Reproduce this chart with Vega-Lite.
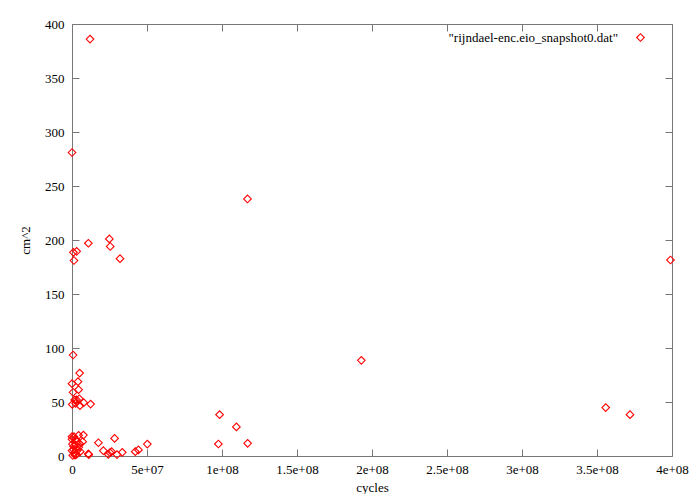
{
  "$schema": "https://vega.github.io/schema/vega-lite/v6.json",
  "width": 600,
  "height": 432,
  "autosize": {"type": "none"},
  "padding": {"left": 72, "top": 24, "right": 17, "bottom": 38},
  "background": "white",
  "config": {
    "view": {"stroke": null},
    "font": "Liberation Serif",
    "axis": {
      "labelFont": "Liberation Serif", "labelFontSize": 13, "labelColor": "black",
      "titleFont": "Liberation Serif", "titleFontSize": 13, "titleFontWeight": "normal", "titleColor": "black",
      "domainColor": "#777777", "tickColor": "#777777", "grid": false
    }
  },
  "data": {"values": [
    {"cycles": 12000000, "area": 386},
    {"cycles": 0, "area": 281},
    {"cycles": 117000000, "area": 238},
    {"cycles": 10900000, "area": 197},
    {"cycles": 24900000, "area": 201},
    {"cycles": 25500000, "area": 194},
    {"cycles": 32000000, "area": 182.7},
    {"cycles": 900000, "area": 188.6},
    {"cycles": 3100000, "area": 189.5},
    {"cycles": 1300000, "area": 181},
    {"cycles": 399000000, "area": 181.5},
    {"cycles": 192900000, "area": 88.6},
    {"cycles": 700000, "area": 93.5},
    {"cycles": 0, "area": 67},
    {"cycles": 5100000, "area": 76.8},
    {"cycles": 4000000, "area": 68.8},
    {"cycles": 4400000, "area": 61.4},
    {"cycles": 700000, "area": 59},
    {"cycles": 4900000, "area": 53},
    {"cycles": 1800000, "area": 51.9},
    {"cycles": 3100000, "area": 51.9},
    {"cycles": 200000, "area": 47.8},
    {"cycles": 2400000, "area": 48.8},
    {"cycles": 5300000, "area": 46.6},
    {"cycles": 7800000, "area": 49.4},
    {"cycles": 12400000, "area": 48.1},
    {"cycles": 98400000, "area": 38.3},
    {"cycles": 109600000, "area": 26.9},
    {"cycles": 97600000, "area": 11.1},
    {"cycles": 117100000, "area": 11.7},
    {"cycles": 355800000, "area": 44.8},
    {"cycles": 372000000, "area": 38.3},
    {"cycles": 0, "area": 17.9},
    {"cycles": 1300000, "area": 17.9},
    {"cycles": 0, "area": 15.4},
    {"cycles": 2400000, "area": 15.4},
    {"cycles": 4400000, "area": 19.1},
    {"cycles": 7600000, "area": 19.4},
    {"cycles": 3100000, "area": 13.6},
    {"cycles": 7100000, "area": 13.3},
    {"cycles": 17600000, "area": 12.3},
    {"cycles": 28400000, "area": 16.3},
    {"cycles": 50200000, "area": 11},
    {"cycles": 20900000, "area": 4.9},
    {"cycles": 25300000, "area": 3.1},
    {"cycles": 26400000, "area": 4},
    {"cycles": 24200000, "area": 1.5},
    {"cycles": 30000000, "area": 1.3},
    {"cycles": 33500000, "area": 3.4},
    {"cycles": 42200000, "area": 4},
    {"cycles": 44300000, "area": 5.6},
    {"cycles": 10900000, "area": 1.9},
    {"cycles": 11200000, "area": 1.2},
    {"cycles": 1000000, "area": 9},
    {"cycles": 4500000, "area": 8},
    {"cycles": 0, "area": 5},
    {"cycles": 1500000, "area": 3},
    {"cycles": 3000000, "area": 1.5},
    {"cycles": 500000, "area": 0.5},
    {"cycles": 2000000, "area": 0.8},
    {"cycles": 5500000, "area": 4},
    {"cycles": 300000, "area": 11},
    {"cycles": 2500000, "area": 10},
    {"cycles": 5000000, "area": 11.5},
    {"cycles": 1000000, "area": 6},
    {"cycles": 3500000, "area": 5}
  ]},
  "layer": [
    {
      "mark": {"type": "point", "shape": "diamond", "filled": false, "size": 58, "strokeWidth": 1.1, "opacity": 1},
      "encoding": {
        "x": {"field": "cycles", "type": "quantitative",
          "scale": {"domain": [0, 400000000], "nice": false, "zero": false},
          "axis": {"orient": "bottom", "title": "cycles", "values": [0, 50000000, 100000000, 150000000, 200000000, 250000000, 300000000, 350000000, 400000000],
            "labelExpr": "datum.value == 0 ? '0' : replace(format(datum.value, '.2~e'), 'e+', 'e+0')",
            "tickSize": -7, "labelPadding": 14, "titlePadding": 5, "labelFlush": false, "labelOverlap": false}},
        "y": {"field": "area", "type": "quantitative",
          "scale": {"domain": [0, 400], "nice": false, "zero": false},
          "axis": {"orient": "left", "title": "cm^2", "values": [0, 50, 100, 150, 200, 250, 300, 350, 400],
            "tickSize": -7, "labelPadding": 15, "titlePadding": 12, "labelFlush": false, "labelOverlap": false}},
        "color": {"datum": "\"rijndael-enc.eio_snapshot0.dat\"", "type": "nominal",
          "scale": {"range": ["#ff0000"]},
          "legend": {"title": null, "orient": "none", "legendX": 562, "legendY": 7, "padding": 0,
            "symbolType": "diamond", "symbolSize": 58, "symbolStrokeWidth": 1.1,
            "labelAlign": "right", "labelOffset": -29, "labelFont": "Liberation Serif", "labelFontSize": 13, "labelColor": "black", "labelLimit": 400}}
      }
    },
    {
      "mark": {"type": "point", "opacity": 0},
      "encoding": {
        "x": {"field": "cycles", "type": "quantitative",
          "scale": {"domain": [0, 400000000], "nice": false, "zero": false},
          "axis": {"orient": "top", "title": null, "labels": false, "values": [0, 50000000, 100000000, 150000000, 200000000, 250000000, 300000000, 350000000, 400000000], "tickSize": -7}},
        "y": {"field": "area", "type": "quantitative",
          "scale": {"domain": [0, 400], "nice": false, "zero": false},
          "axis": {"orient": "right", "title": null, "labels": false, "values": [0, 50, 100, 150, 200, 250, 300, 350, 400], "tickSize": -7}}
      }
    }
  ],
  "resolve": {"axis": {"x": "independent", "y": "independent"}}
}
